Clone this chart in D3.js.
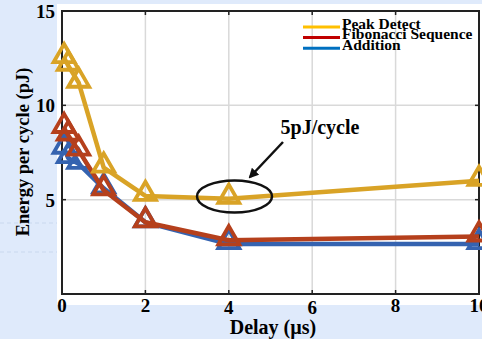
<!DOCTYPE html>
<html>
<head>
<meta charset="utf-8">
<script src="https://cdn.jsdelivr.net/npm/d3@7"></script>
<style>
  body { margin: 0; background: #dfeafb; }
  svg { display: block; }
  text { font-family: "Liberation Serif", "Times New Roman", serif; font-weight: bold; }
</style>
</head>
<body>
<div id="chart"></div>
<script>
// data
let delays = [0.05, 0.15, 0.4, 1, 2, 4, 10];
let peakDetect = [12.5, 12.1, 11.2, 6.7, 5.2, 5.05, 6.0];
let fibonacci = [8.8, 8.4, 7.6, 5.5, 3.8, 2.85, 3.05];
let addition = [7.7, 7.2, 6.9, 5.6, 3.8, 2.65, 2.65];
let seriesNames = ['Peak Detect', 'Fibonacci Sequence', 'Addition'];
let xTicks = [0, 2, 4, 6, 8, 10];
let yTicks = [5, 10, 15];

let lineColors = ['#d9a326', '#b5401c', '#3563b0'];
let legendColors = ['#ffc000', '#c00000', '#0070c0'];

let width = 482, height = 339;
let padding = { left: 62, right: 3, top: 11, bottom: 45 };

let svg = d3.select('#chart').append('svg')
    .attr('width', width)
    .attr('height', height);

// background
svg.append('rect').attr('width', width).attr('height', height).attr('fill', '#dfeafb');
// faint dashed lines on the left
[223, 252].forEach(yy => {
    svg.append('line')
        .attr('x1', 0).attr('x2', 57).attr('y1', yy).attr('y2', yy)
        .attr('stroke', '#c9d8ee').attr('stroke-width', 1).attr('stroke-dasharray', '4,3');
});
svg.append('rect').attr('x', 57).attr('y', 4).attr('width', width - 57).attr('height', 301).attr('fill', '#fff');

let x = d3.scaleLinear().domain([0, 10]).range([padding.left, width - padding.right]);
let y = d3.scaleLinear().domain([0, 15]).range([height - padding.bottom, padding.top]);

// grid
svg.append('g').selectAll('line.gx')
    .data(xTicks.slice(1, -1)).enter().append('line')
    .attr('x1', d => x(d)).attr('x2', d => x(d))
    .attr('y1', y(15)).attr('y2', y(0))
    .attr('stroke', '#d9d9d9').attr('stroke-width', 1.5);
svg.append('g').selectAll('line.gy')
    .data([5, 10]).enter().append('line')
    .attr('x1', x(0)).attr('x2', x(10))
    .attr('y1', d => y(d)).attr('y2', d => y(d))
    .attr('stroke', '#d9d9d9').attr('stroke-width', 1.5);

// inner ticks on all sides
let tk = svg.append('g').attr('stroke', '#222').attr('stroke-width', 1.5);
xTicks.slice(1, -1).forEach(d => {
    tk.append('line').attr('x1', x(d)).attr('x2', x(d)).attr('y1', y(0)).attr('y2', y(0) - 4);
    tk.append('line').attr('x1', x(d)).attr('x2', x(d)).attr('y1', y(15)).attr('y2', y(15) + 4);
});
[5, 10].forEach(d => {
    tk.append('line').attr('x1', x(0)).attr('x2', x(0) + 4).attr('y1', y(d)).attr('y2', y(d));
    tk.append('line').attr('x1', x(10)).attr('x2', x(10) - 4).attr('y1', y(d)).attr('y2', y(d));
});

// frame
svg.append('rect')
    .attr('x', x(0)).attr('y', y(15))
    .attr('width', x(10) - x(0)).attr('height', y(0) - y(15))
    .attr('fill', 'none').attr('stroke', '#222').attr('stroke-width', 2);

// tick labels
svg.append('g').selectAll('text')
    .data(xTicks).enter().append('text')
    .attr('x', d => x(d))
    .attr('y', d => (d == 4 || d == 6) ? 314 : 312)
    .attr('text-anchor', 'middle')
    .attr('font-size', 19)
    .text(d => d);
svg.append('g').selectAll('text')
    .data(yTicks).enter().append('text')
    .attr('x', 55)
    .attr('y', d => y(d) + 7)
    .attr('text-anchor', 'end')
    .attr('font-size', 19)
    .text(d => d);

// axis titles
svg.append('text')
    .attr('x', 273).attr('y', 334)
    .attr('text-anchor', 'middle')
    .attr('font-size', 20)
    .text('Delay (µs)');
svg.append('text')
    .attr('transform', 'translate(29,152) rotate(-90)')
    .attr('text-anchor', 'middle')
    .attr('font-size', 18.5)
    .text('Energy per cycle (pJ)');

// series
let allSeries = [peakDetect, fibonacci, addition];
let line = d3.line().x(d => x(d[0])).y(d => y(d[1]));
let tri = d3.symbol().type(d3.symbolTriangle).size(190);

// draw bottom to top: addition, fibonacci, peak
[2, 1, 0].forEach(k => {
    let pts = delays.map((d, i) => [d, allSeries[k][i]]);
    svg.append('path')
        .datum(pts)
        .attr('d', line)
        .attr('fill', 'none')
        .attr('stroke', lineColors[k])
        .attr('stroke-width', 4.5)
        .attr('stroke-linejoin', 'round');
    svg.append('g').selectAll('path')
        .data(pts).enter().append('path')
        .attr('d', tri)
        .attr('transform', d => `translate(${x(d[0])},${y(d[1]) - 2})`)
        .attr('fill', 'none')
        .attr('stroke', lineColors[k])
        .attr('stroke-width', 3.8)
        .attr('stroke-linejoin', 'miter');
});

// legend
let lg = svg.append('g');
seriesNames.forEach((name, i) => {
    let yy = 27 + i * 10.6;
    lg.append('line')
        .attr('x1', 303).attr('x2', 340)
        .attr('y1', yy).attr('y2', yy)
        .attr('stroke', legendColors[i]).attr('stroke-width', 3);
    lg.append('text')
        .attr('x', 342).attr('y', yy + 1.5)
        .attr('font-size', 15.5)
        .text(name);
});

// annotation
svg.append('defs').append('marker')
    .attr('id', 'arrow')
    .attr('viewBox', '0 0 10 10')
    .attr('refX', 8).attr('refY', 5)
    .attr('markerWidth', 4).attr('markerHeight', 4)
    .attr('orient', 'auto')
    .append('path').attr('d', 'M0,0 L10,5 L0,10 z').attr('fill', '#111');
svg.append('line')
    .attr('x1', 283).attr('y1', 142)
    .attr('x2', 250).attr('y2', 177)
    .attr('stroke', '#111').attr('stroke-width', 2.5)
    .attr('marker-end', 'url(#arrow)');
svg.append('text')
    .attr('x', 320).attr('y', 134)
    .attr('text-anchor', 'middle')
    .attr('font-size', 20)
    .text('5pJ/cycle');
svg.append('ellipse')
    .attr('cx', 234.5).attr('cy', 196.5)
    .attr('rx', 37.5).attr('ry', 16)
    .attr('fill', 'none').attr('stroke', '#111').attr('stroke-width', 2.5);
</script>
</body>
</html>
